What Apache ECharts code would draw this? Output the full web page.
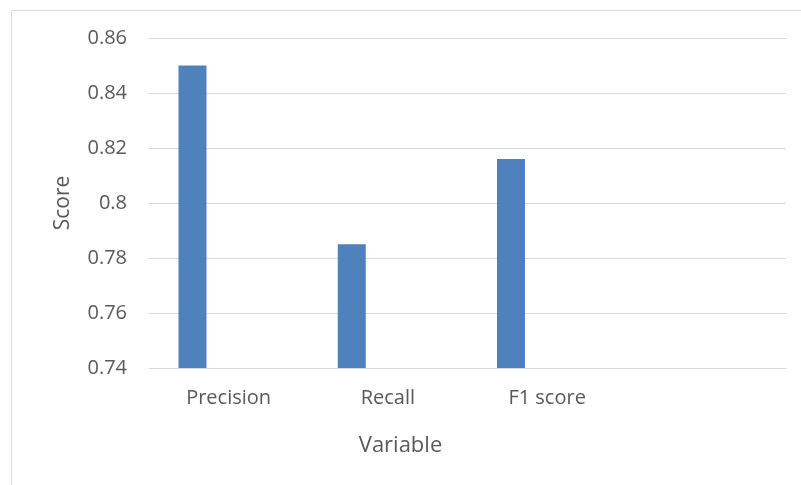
<!DOCTYPE html>
<html>
<head>
<meta charset="utf-8">
<script src="https://cdn.jsdelivr.net/npm/echarts@6/dist/echarts.min.js"></script>
<style>
  html, body { margin: 0; padding: 0; background: #ffffff; }
  #chart { width: 801px; height: 485px; }
</style>
</head>
<body>
<div id="chart"></div>
<script>
// Metric names along the category axis (last slot is left blank)
var categories = ['Precision', 'Recall', 'F1 score', ''];
// Scores for each metric
var scores = [0.85, 0.785, 0.816, null];
// Placeholder series that reserves the second bar slot in each category
var reserved = [null, null, null, null];
// Value axis range and step
var yMin = 0.74, yMax = 0.86, yStep = 0.02;

var textColor = '#595959';
var lineColor = '#d9d9d9';
var fontFamily = '"Open Sans", sans-serif';

var chart = echarts.init(document.getElementById('chart'), null, { renderer: 'canvas' });
chart.setOption({
  animation: false,
  backgroundColor: '#ffffff',
  title: {
    text: 'Variable',
    left: 'center',
    top: 430,
    textStyle: { color: textColor, fontFamily: fontFamily, fontSize: 22, fontWeight: 'normal' }
  },
  graphic: [{
    type: 'rect',
    shape: { x: 11.5, y: 10.5, width: 800, height: 480 },
    style: { fill: 'none', stroke: lineColor, lineWidth: 1 },
    silent: true
  }],
  grid: { left: 149, right: 15, top: 38, bottom: 117, containLabel: false },
  xAxis: {
    type: 'category',
    data: categories,
    axisLine: { show: true, lineStyle: { color: lineColor, width: 1 } },
    axisTick: { show: false },
    axisLabel: { color: textColor, fontFamily: fontFamily, fontSize: 20, margin: 20 },
    splitLine: { show: false }
  },
  yAxis: {
    type: 'value',
    min: yMin,
    max: yMax,
    interval: yStep,
    name: 'Score',
    nameLocation: 'middle',
    nameGap: 75,
    nameTextStyle: { color: textColor, fontFamily: fontFamily, fontSize: 21 },
    axisLine: { show: false },
    axisTick: { show: false },
    axisLabel: {
      color: textColor, fontFamily: fontFamily, fontSize: 20, margin: 22,
      formatter: function (v) { return String(parseFloat(v.toFixed(2))); }
    },
    splitLine: { show: true, lineStyle: { color: lineColor, width: 1 } }
  },
  series: [
    {
      type: 'bar',
      name: 'Score',
      data: scores,
      barWidth: 28,
      barGap: '158%',
      itemStyle: { color: '#4f81bd' }
    },
    {
      type: 'bar',
      name: 'Reserved',
      data: reserved,
      barWidth: 28,
      itemStyle: { color: '#c0504d' }
    }
  ]
});
</script>
</body>
</html>
